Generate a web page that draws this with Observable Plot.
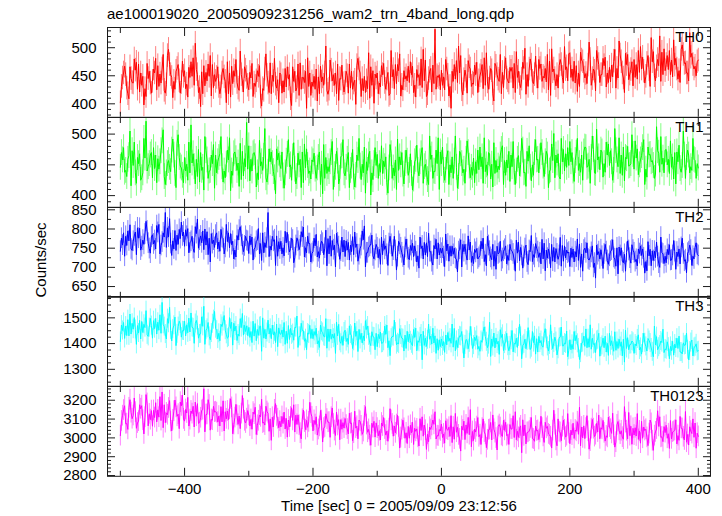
<!DOCTYPE html>
<html><head><meta charset="utf-8">
<script src="https://cdn.jsdelivr.net/npm/d3@7"></script>
<script src="https://cdn.jsdelivr.net/npm/@observablehq/plot@0.6"></script>
<style>
body{margin:0;background:#fff;}
#chart{position:relative;width:722px;height:516px;font-family:"Liberation Sans",Arial,Helvetica,sans-serif;color:#000;overflow:hidden;background:#fff}
.lbl{position:absolute;white-space:nowrap;font-size:15px;line-height:12px}
</style></head><body><div id="chart"></div>
<script>
const title = "ae100019020_20050909231256_wam2_trn_4band_long.qdp";
const yLabel = "Counts/sec";
const xLabel = "Time [sec] 0 = 2005/09/09 23:12:56";
const bandNames = ["TH0", "TH1", "TH2", "TH3", "TH0123"];
const bandColors = ["#ff0000", "#00ff00", "#0000ff", "#00ffff", "#ff00ff"];
// three interleaved sample sets per band: A at t = -500 + 5k, B at +5/3 s, C at +10/3 s
const timeStart = -500, timeStep = 5;

const th0 = [402,455,428,466,437,474,421,449,413,458,
440,481,431,462,419,497,447,426,470,438,
459,412,475,433,452,395,468,441,486,429,
447,418,463,402,455,436,479,424,441,460,
425,472,431,449,396,462,437,418,481,443,
452,421,466,409,440,429,473,447,392,455,
431,462,418,448,503,426,441,455,406,469,
437,419,458,442,481,413,449,427,466,401,
455,430,472,444,418,461,436,489,425,450,
438,467,412,452,429,478,445,421,533,447,
460,425,451,392,470,438,486,443,419,462,
435,474,450,427,491,446,418,467,440,456,
482,437,465,420,458,444,499,431,469,452,
428,471,446,488,415,462,452,479,437,466,
491,440,468,431,475,454,510,445,423,470,
452,483,438,469,497,446,475,420,488,461,
479,444,502,458,472,431,493,466,521,452,
470,495,448,481,459,505,473,441,490,467,
478];
const th0B = [431,467,418,445,480,426,455,398,472,437,
462,425,453,488,434,470,411,458,441,476,
427,465,449,508,420,457,432,471,414,452,
466,430,448,475,412,459,438,494,421,447,
456,413,441,468,427,489,420,451,435,402,
419,463,444,397,458,471,426,438,482,415,
449,405,467,433,424,478,452,418,445,436,
458,471,426,399,462,445,420,491,433,453,
418,468,438,456,495,427,470,414,459,441,
475,420,461,433,497,413,458,469,426,452,
433,479,414,458,444,503,425,460,477,431,
469,420,458,482,439,463,405,452,488,429,
446,465,428,493,436,474,417,462,440,485,
479,440,463,425,498,445,428,470,502,441,
447,476,422,492,458,436,479,462,495,438,
481,430,465,448,428,512,455,490,443,475,
447,495,462,437,486,518,450,479,440,498,
486,452,514,462,438,488,455,527,470,450];
const th0C = [446,452,409,438,460,471,433,427,445,419,
455,468,437,424,486,452,440,463,419,449,
435,447,482,461,429,418,456,449,470,440,
431,455,440,418,467,449,428,452,466,433,
446,437,459,412,424,451,473,440,428,455,
441,430,452,466,423,415,447,458,431,439,
426,448,439,455,417,460,433,471,444,421,
450,428,437,468,455,423,441,410,459,446,
437,452,426,415,448,470,459,433,444,467,
452,433,447,480,441,418,463,436,450,425,
448,462,431,440,477,455,416,449,466,437,
452,441,470,433,426,459,472,444,418,463,
441,458,472,447,429,463,452,480,436,448,
463,449,439,476,457,432,468,447,461,489,
462,437,455,478,446,469,433,458,481,452,
468,455,439,476,463,487,446,470,453,432,
470,456,483,449,461,475,441,468,492,459,
461,478,469,444,497,472,455,483,462,475];

const th1 = [446,478,431,505,449,420,468,437,521,452,
429,466,443,489,418,457,474,436,499,445,
462,425,515,447,431,470,409,458,441,483,
437,468,422,451,494,433,460,415,472,447,
481,440,463,426,455,509,438,471,429,458,
444,412,467,450,486,431,459,421,476,440,
455,428,471,403,462,439,488,446,419,465,
432,470,448,414,457,426,479,441,401,452,
467,438,456,421,483,445,410,463,435,474,
441,409,459,432,478,451,418,466,439,494,
452,425,473,437,456,412,468,443,489,429,
461,436,479,420,450,468,414,457,442,481,
433,472,447,418,465,493,438,456,424,470,
459,486,431,466,442,501,453,427,475,446,
488,440,469,452,425,478,459,497,436,463,
471,438,484,455,509,447,466,424,480,452,
443,476,458,491,430,467,449,512,438,461,
475,436,463,419,482,449,428,466,441,457,
445];
const th1B = [470,438,459,416,487,462,425,493,440,466,
478,421,455,507,437,446,492,413,462,433,
440,487,453,419,475,441,496,428,466,412,
455,496,440,474,408,468,441,485,432,519,
424,468,414,490,441,429,476,452,403,469,
471,437,491,425,443,469,413,484,449,427,
469,445,418,483,436,455,410,472,428,491,
446,413,475,433,493,451,404,466,437,478,
428,481,447,404,468,432,492,450,419,456,
468,427,482,455,420,437,497,428,474,410,
479,441,418,463,497,431,452,420,470,446,
421,474,447,494,433,427,486,438,466,418,
458,423,488,440,432,474,415,481,450,491,
437,470,455,413,484,429,468,493,440,478,
455,423,493,438,471,446,420,475,508,442,
430,487,449,425,473,494,433,462,448,499,
489,434,465,418,479,455,428,473,496,437,
450,489,427,471,444,505,462,437,493,428];
const th1C = [458,441,465,473,437,452,429,461,447,470,
444,460,473,431,452,439,466,485,448,421,
451,437,468,459,422,446,473,440,452,466,
462,447,429,458,440,471,453,426,460,443,
459,470,437,448,464,422,455,439,476,450,
432,456,447,463,419,450,471,445,436,458,
443,462,451,428,447,470,434,456,463,437,
459,441,430,466,448,437,455,472,426,449,
452,436,463,445,428,458,441,470,452,433,
436,455,441,468,447,426,459,440,452,471,
441,463,450,428,446,472,437,459,448,433,
455,442,463,439,470,451,436,448,475,457,
445,466,438,459,451,437,472,446,433,458,
463,448,472,440,457,466,431,455,468,449,
470,457,441,466,479,448,462,437,458,474,
452,466,473,441,458,436,479,460,449,467,
461,450,478,443,466,457,435,469,451,474,
459,446,470,455,438,466,474,447,459,452];

const th2 = [742,790,757,811,768,733,802,771,820,749,
785,748,812,766,843,779,731,796,760,818,
755,801,768,739,826,782,746,793,714,771,
790,742,775,812,751,768,727,797,759,781,
736,779,752,801,718,764,843,745,772,729,
768,730,791,749,712,777,756,805,738,762,
741,786,724,763,797,735,770,701,754,779,
728,765,741,792,716,757,808,738,762,722,
751,708,769,734,781,745,693,760,727,774,
720,763,741,698,756,732,789,715,748,764,
737,702,761,729,750,688,772,741,719,766,
710,749,731,776,704,742,760,695,738,723,
756,718,742,690,766,731,749,707,783,726,
741,709,763,724,699,752,735,778,716,745,
702,748,727,761,690,738,719,756,672,741,
729,760,708,745,722,683,751,734,769,711,
738,704,756,725,691,747,718,766,700,735,
712,759,731,695,748,776,720,741,705,752,
731];
const th2B = [776,729,795,748,782,803,745,760,795,737,
761,809,735,790,752,827,769,744,799,782,
798,738,781,806,750,764,800,733,788,752,
748,799,735,767,788,722,783,806,741,770,
782,719,768,735,790,752,728,781,705,767,
735,794,758,776,725,768,793,727,781,714,
776,727,758,733,704,782,746,789,721,740,
769,719,780,752,733,795,701,752,784,744,
725,779,747,705,760,781,728,751,706,746,
757,728,714,779,722,764,741,706,773,732,
750,787,716,755,724,741,701,760,782,713,
747,722,768,715,781,726,703,755,768,742,
709,760,735,771,717,698,758,744,715,762,
726,773,691,748,760,714,721,703,756,737,
750,714,774,700,745,764,726,700,758,722,
697,741,729,772,703,753,716,690,744,759,
715,748,731,685,767,704,742,728,779,710,
747,718,770,740,709,735,686,758,729,764];
const th2C = [758,781,769,744,792,776,754,787,763,779,
770,791,757,779,803,762,748,784,775,792,
781,764,749,788,771,795,758,776,762,784,
766,778,752,790,759,745,771,781,756,768,
759,747,771,762,738,776,755,768,782,748,
751,764,740,771,757,746,779,751,762,736,
756,741,768,750,775,729,758,764,742,771,
745,758,733,761,749,772,738,755,730,760,
747,733,756,762,729,744,768,738,752,725,
744,756,730,749,765,728,741,757,722,750,
728,743,755,734,721,747,760,733,745,729,
739,726,748,733,757,720,742,735,716,747,
731,745,719,737,752,728,714,741,733,750,
738,722,745,735,716,749,731,757,725,740,
726,741,718,735,750,722,739,711,733,746,
735,718,742,726,751,731,712,739,724,745,
721,736,748,715,730,743,725,711,738,729,
733,719,741,728,752,716,737,745,722,734];

const th3 = [1408,1482,1431,1515,1456,1397,1490,1443,1528,1462,
1421,1498,1452,1560,1437,1479,1410,1503,1466,1425,
1487,1442,1519,1401,1470,1438,1545,1459,1415,1493,
1452,1411,1486,1436,1501,1394,1468,1429,1517,1447,
1463,1404,1478,1432,1370,1455,1491,1419,1446,1388,
1436,1482,1401,1459,1413,1507,1428,1450,1376,1471,
1419,1460,1385,1443,1497,1408,1437,1362,1475,1428,
1452,1397,1431,1480,1369,1440,1411,1468,1392,1425,
1388,1445,1409,1472,1353,1427,1396,1458,1419,1381,
1437,1392,1460,1405,1337,1421,1476,1398,1430,1374,
1418,1366,1443,1401,1459,1385,1428,1344,1412,1467,
1394,1431,1370,1448,1407,1483,1389,1422,1358,1436,
1409,1372,1451,1398,1426,1341,1417,1462,1384,1430,
1367,1412,1440,1389,1473,1402,1356,1425,1391,1449,
1415,1378,1432,1338,1404,1457,1386,1421,1365,1440,
1393,1429,1354,1411,1446,1381,1407,1328,1423,1397,
1362,1418,1385,1440,1371,1402,1349,1427,1394,1456,
1376,1341,1409,1383,1429,1360,1395,1337,1414,1388,
1372];
const th3B = [1472,1420,1493,1437,1501,1470,1418,1475,1434,1498,
1489,1437,1512,1475,1418,1541,1456,1392,1487,1450,
1430,1499,1463,1478,1421,1504,1397,1482,1441,1525,
1418,1475,1509,1421,1459,1479,1412,1497,1433,1469,
1424,1487,1411,1466,1500,1418,1437,1472,1404,1461,
1453,1397,1470,1434,1463,1385,1479,1409,1441,1420,
1447,1399,1472,1428,1382,1456,1421,1484,1409,1393,
1408,1469,1381,1428,1455,1402,1489,1430,1446,1376,
1436,1401,1468,1384,1421,1491,1403,1433,1371,1448,
1411,1455,1372,1426,1448,1389,1417,1460,1362,1415,
1391,1433,1409,1476,1372,1418,1447,1395,1380,1428,
1425,1378,1412,1465,1384,1350,1441,1398,1454,1373,
1440,1391,1368,1421,1475,1393,1380,1413,1447,1359,
1428,1390,1458,1371,1410,1425,1378,1464,1402,1349,
1376,1447,1401,1363,1429,1384,1473,1397,1412,1351,
1421,1367,1440,1389,1374,1417,1352,1452,1376,1410,
1398,1434,1359,1403,1420,1383,1468,1376,1410,1365,
1407,1389,1355,1421,1367,1403,1441,1371,1352,1399];
const th3C = [1451,1468,1430,1479,1455,1441,1486,1462,1428,1470,
1458,1483,1440,1466,1497,1452,1471,1438,1476,1449,
1473,1445,1461,1490,1437,1467,1452,1428,1477,1458,
1440,1466,1452,1425,1483,1449,1437,1462,1471,1431,
1447,1429,1455,1468,1421,1443,1459,1433,1476,1438,
1425,1448,1416,1439,1462,1428,1451,1419,1437,1455,
1432,1411,1448,1426,1457,1417,1439,1430,1401,1445,
1421,1437,1409,1448,1416,1430,1455,1403,1427,1440,
1419,1402,1436,1411,1428,1445,1398,1421,1433,1407,
1399,1424,1411,1437,1393,1415,1429,1402,1419,1388,
1408,1395,1421,1386,1412,1430,1397,1416,1403,1381,
1412,1389,1405,1427,1396,1418,1383,1409,1424,1398,
1390,1413,1401,1385,1428,1399,1410,1377,1404,1419,
1402,1386,1417,1395,1380,1408,1423,1391,1399,1374,
1397,1411,1383,1402,1389,1419,1378,1400,1415,1387,
1384,1401,1392,1370,1408,1389,1417,1381,1396,1405,
1391,1375,1402,1389,1412,1368,1395,1386,1404,1379,
1386,1372,1398,1381,1367,1393,1376,1404,1385,1370];

const th0123 = [3012,3148,3076,3203,3119,3051,3176,3094,3230,3128,
3062,3187,3110,3244,3081,3159,3037,3201,3126,3170,
3089,3215,3143,3058,3182,3107,3261,3125,3041,3168,
3134,3063,3197,3101,3152,3022,3178,3116,3225,3079,
3120,3046,3163,3091,3205,3068,3130,2987,3149,3102,
3058,3137,3004,3111,3176,3072,3025,3148,3093,3189,
3037,3112,3061,2978,3128,3084,3159,3013,3097,3046,
3103,3021,3079,3142,2995,3064,3117,3030,2961,3088,
3052,2989,3108,3036,3155,3009,3071,2946,3094,3027,
2998,3083,3035,2957,3112,3041,2980,3066,3139,3010,
3074,2972,3041,3118,2993,3056,2930,3089,3024,3150,
2986,3060,3017,3101,2948,3045,3122,2999,3071,3008,
3083,2965,3047,3139,3003,2921,3069,3030,3108,2982,
3040,3115,2976,3061,3006,3147,2958,3029,3094,3012,
2969,3078,3035,3163,3000,3052,2940,3098,3017,3121,
3046,2983,3110,3024,2951,3087,3038,3166,2995,3062,
3015,3129,2972,3058,3003,3095,2934,3047,3112,2980,
3067,2944,3031,3096,2987,3050,3140,2962,3023,3079,
3008];
const th0123B = [3090,3171,3045,3134,3212,3079,3155,3021,3183,3097,
3146,3085,3219,3054,3133,3198,3096,3162,3049,3227,
3151,3063,3129,3190,3077,3146,3032,3203,3098,3137,
3084,3166,3037,3143,3208,3071,3119,3049,3155,3102,
3063,3137,3018,3121,3079,3168,3035,3110,3182,3054,
3114,3047,3095,3160,3031,3122,2995,3084,3056,3131,
3093,3015,3146,3052,3100,3003,3074,3137,2990,3081,
3068,3131,2985,3052,3094,3019,3166,3045,3078,3004,
3011,3079,3047,2982,3093,3063,3120,3002,3051,2970,
3067,2965,3048,3102,3009,2939,3057,3095,2994,3044,
3002,3091,3057,2975,3130,3016,3062,2991,3109,2953,
3047,3108,2965,3031,2990,3082,3046,2936,3055,3094,
3012,3071,3118,2990,3051,3096,2968,3036,2997,3063,
2991,3052,3083,3021,2946,3070,3101,2985,3043,3129,
3041,2997,3086,2958,3064,3118,2983,3049,3077,2995,
3093,3011,3058,3131,2977,3040,3004,3081,3135,2966,
3054,2992,3088,3039,2959,3077,3012,3144,3003,3060,
2998,3092,3035,2968,3114,3006,2977,3059,3101,2945];
const th0123C = [3118,3075,3160,3102,3137,3089,3171,3110,3064,3145,
3108,3149,3092,3176,3123,3087,3142,3115,3190,3101,
3132,3097,3168,3115,3081,3150,3124,3175,3094,3139,
3116,3085,3139,3097,3162,3108,3072,3129,3091,3145,
3098,3126,3067,3112,3083,3140,3101,3058,3117,3089,
3076,3104,3058,3093,3121,3067,3099,3044,3085,3112,
3071,3045,3092,3058,3083,3110,3039,3066,3097,3052,
3047,3076,3025,3062,3088,3034,3071,3012,3055,3080,
3038,3063,3015,3049,3074,3027,3058,3044,2998,3061,
3026,3051,3003,3039,3068,3019,3045,3072,3012,3037,
3021,3046,3008,3059,3030,2995,3042,3069,3017,3034,
3031,3006,3052,3019,3043,2989,3028,3061,3013,3040,
3018,3047,3002,3035,3064,3011,3029,3053,2994,3037,
3029,3008,3051,3016,3039,2987,3033,3060,3004,3026,
3015,3042,3019,3058,2996,3035,3049,3007,3031,3054,
3027,3003,3046,3014,3069,3020,2993,3038,3012,3051,
3010,3037,2998,3046,3023,2985,3032,3061,3006,3028,
3022,2995,3040,3012,3051,2989,3018,3036,3003,3025];

const seriesA = [th0, th1, th2, th3, th0123];
const seriesB = [th0B, th1B, th2B, th3B, th0123B];
const seriesC = [th0C, th1C, th2C, th3C, th0123C];
const errors = [21, 21, 27, 37, 55];
const yDomains = [[376, 536], [381, 527], [622, 856], [1234, 1583], [2796, 3273]];
const yMajor = [[400, 450, 500], [400, 450, 500], [650, 700, 750, 800, 850], [1300, 1400, 1500], [2800, 2900, 3000, 3100, 3200]];
const yMinorStep = [10, 10, 25, 25, 20];
const xDomain = [-520, 419];
const xMajor = [-400, -200, 0, 200, 400];
const xMinor = [-500, -300, -100, 100, 300];

const chart = document.getElementById("chart");
const panelTop = 27, panelH = 89.8;
const font = '"Liberation Sans", Arial, Helvetica, sans-serif';
const fmtX = d => (d < 0 ? "\u2212" + Math.abs(d) : String(d));
const fmtY = d => String(d);

function panel(i) {
  const err = errors[i], color = bandColors[i];
  const sets = [seriesA[i], seriesB[i], seriesC[i]];
  const data = sets.flatMap((arr, j) => arr.map((v, k) => ({t: timeStart + k * timeStep + j * timeStep / 3, v})))
    .sort((a, b) => a.t - b.t);
  const [lo, hi] = yDomains[i];
  const st = yMinorStep[i];
  const minor = d3.range(Math.ceil(lo / st) * st, hi + 0.001, st).filter(v => !yMajor[i].includes(v));
  const tickStroke = "#1a1a1a";
  const marks = [
    Plot.ruleX(data, {x: "t", y1: d => d.v - err, y2: d => d.v + err, stroke: color, strokeOpacity: 0.5, strokeWidth: 1, clip: true}),
    Plot.line(data, {x: "t", y: "v", stroke: color, strokeWidth: 1, clip: true}),
    Plot.frame({stroke: tickStroke, strokeWidth: 1}),
    Plot.axisY({anchor: "left", ticks: yMajor[i], tickFormat: fmtY, tickSize: 0, tickPadding: 11, label: null, fontSize: 15, fill: "#000"}),
    Plot.axisY({anchor: "left", ticks: yMajor[i], tickSize: 8, dx: 8, fill: "none", label: null, stroke: tickStroke}),
    Plot.axisY({anchor: "left", ticks: minor, tickSize: 4, dx: 4, fill: "none", label: null, stroke: tickStroke}),
    Plot.axisY({anchor: "right", ticks: yMajor[i], tickSize: 8, dx: -8, fill: "none", label: null, stroke: tickStroke}),
    Plot.axisY({anchor: "right", ticks: minor, tickSize: 4, dx: -4, fill: "none", label: null, stroke: tickStroke}),
    Plot.axisX({anchor: "top", ticks: xMajor, tickSize: 8, dy: 8, fill: "none", label: null, stroke: tickStroke}),
    Plot.axisX({anchor: "top", ticks: xMinor, tickSize: 5, dy: 5, fill: "none", label: null, stroke: tickStroke}),
    Plot.axisX({anchor: "bottom", ticks: xMajor, tickSize: 8, dy: -8, fill: "none", label: null, stroke: tickStroke}),
    Plot.axisX({anchor: "bottom", ticks: xMinor, tickSize: 5, dy: -5, fill: "none", label: null, stroke: tickStroke}),
    Plot.text([bandNames[i]], {frameAnchor: "top-right", text: d => d, dx: -7, dy: 4, lineAnchor: "top", textAnchor: "end", fontSize: 15, fill: "#000"})
  ];
  if (i === seriesA.length - 1) {
    marks.push(Plot.axisX({anchor: "bottom", ticks: xMajor, tickFormat: fmtX, tickSize: 0, tickPadding: 7, label: null, fontSize: 15, fill: "#000"}));
  }
  const svg = Plot.plot({
    width: 722, height: panelH,
    marginLeft: 107, marginRight: 12, marginTop: 0, marginBottom: 0,
    x: {domain: xDomain, label: null},
    y: {domain: yDomains[i], label: null},
    style: {overflow: "visible", background: "none", fontFamily: font, fontSize: "15px", color: "#000"},
    marks
  });
  svg.style.position = "absolute";
  svg.style.left = "0px";
  svg.style.top = (panelTop + i * panelH) + "px";
  svg.style.overflow = "visible";
  svg.style.maxWidth = "none";
  return svg;
}

seriesA.forEach((_, i) => chart.appendChild(panel(i)));

const t = document.createElement("div");
t.className = "lbl"; t.textContent = title;
t.style.left = "107px"; t.style.top = "8px";
chart.appendChild(t);

const xl = document.createElement("div");
xl.className = "lbl"; xl.textContent = xLabel;
xl.style.left = "399px"; xl.style.top = "500px"; xl.style.transform = "translateX(-50%)";
chart.appendChild(xl);

const yl = document.createElement("div");
yl.className = "lbl"; yl.textContent = yLabel;
yl.style.left = "41px"; yl.style.top = "260px";
yl.style.transform = "translate(-50%, -50%) rotate(-90deg)";
chart.appendChild(yl);
</script></body></html>
